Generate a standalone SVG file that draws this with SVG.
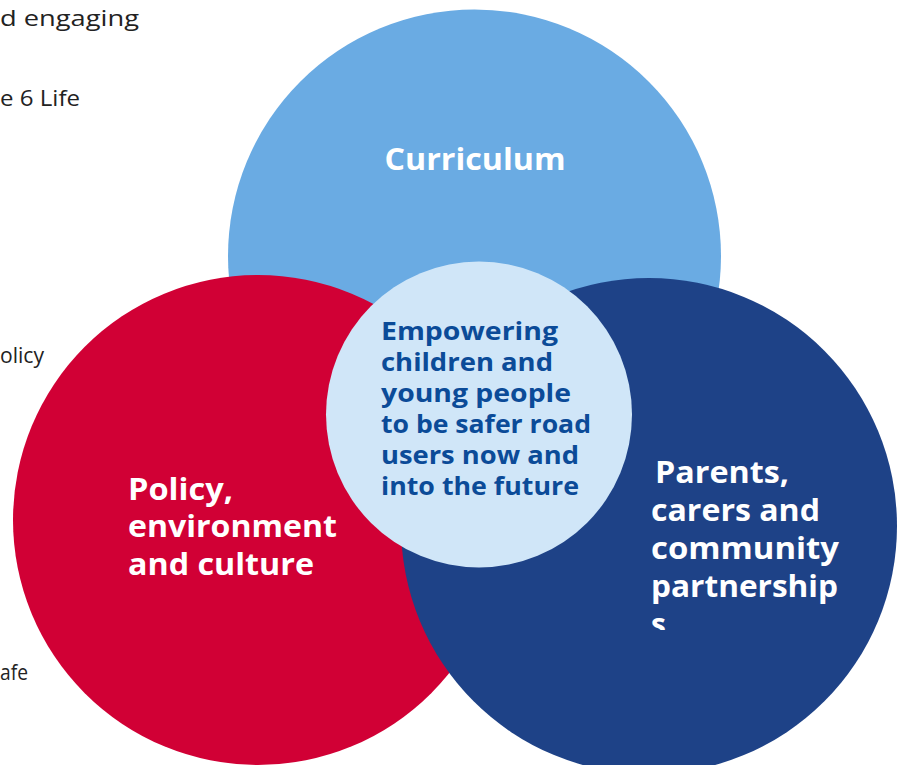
<svg xmlns="http://www.w3.org/2000/svg" width="905" height="765" viewBox="0 0 905 765">
<style>
.bg{font-family:"Open Sans","Liberation Sans",sans-serif;font-size:21px;fill:#222}
.w{font-family:"Open Sans","Liberation Sans",sans-serif;font-weight:700;fill:#fff}
.c{font-family:"Open Sans","Liberation Sans",sans-serif;font-weight:700;font-size:25px;fill:#0B4B98}
</style>
<defs>
<clipPath id="clipP"><rect x="600" y="440" width="300" height="190"/></clipPath>
</defs>
<rect width="905" height="765" fill="#fff"/>
<g id="side-text">
<text class="bg" x="0" y="26" textLength="139" lengthAdjust="spacingAndGlyphs">d engaging</text>
<text class="bg" x="0" y="106" textLength="80" lengthAdjust="spacingAndGlyphs">e 6 Life</text>
<text class="bg" x="0" y="363" textLength="44" lengthAdjust="spacingAndGlyphs">olicy</text>
<text class="bg" x="0" y="680" textLength="28" lengthAdjust="spacingAndGlyphs">afe</text>
</g>
<g id="curriculum">
<circle cx="474.5" cy="256" r="246.5" fill="#6AABE3"/>
<text class="w" x="475" y="170" font-size="30" text-anchor="middle" textLength="181" lengthAdjust="spacingAndGlyphs">Curriculum</text>
</g>
<g id="policy">
<circle cx="258" cy="520" r="245" fill="#D10035"/>
<text class="w" font-size="30" x="128" y="500" textLength="105" lengthAdjust="spacingAndGlyphs">Policy,</text>
<text class="w" font-size="30" x="128" y="537" textLength="209" lengthAdjust="spacingAndGlyphs">environment</text>
<text class="w" font-size="30" x="128" y="575" textLength="186" lengthAdjust="spacingAndGlyphs">and culture</text>
</g>
<g id="parents">
<circle cx="649" cy="526" r="248" fill="#1E4287"/>
<g clip-path="url(#clipP)">
<text class="w" font-size="30" x="655" y="483" textLength="134" lengthAdjust="spacingAndGlyphs">Parents,</text>
<text class="w" font-size="30" x="651" y="521" textLength="169" lengthAdjust="spacingAndGlyphs">carers and</text>
<text class="w" font-size="30" x="651" y="559" textLength="188" lengthAdjust="spacingAndGlyphs">community</text>
<text class="w" font-size="30" x="651" y="597" textLength="187" lengthAdjust="spacingAndGlyphs">partnership</text>
<text class="w" font-size="30" x="651" y="635">s</text>
</g>
</g>
<g id="centre">
<circle cx="479" cy="414.5" r="153" fill="#D0E6F8"/>
<text class="c" x="381" y="340" textLength="177" lengthAdjust="spacingAndGlyphs">Empowering</text>
<text class="c" x="381" y="371" textLength="172" lengthAdjust="spacingAndGlyphs">children and</text>
<text class="c" x="381" y="402" textLength="190" lengthAdjust="spacingAndGlyphs">young people</text>
<text class="c" x="381" y="433" textLength="210" lengthAdjust="spacingAndGlyphs">to be safer road</text>
<text class="c" x="381" y="464" textLength="198" lengthAdjust="spacingAndGlyphs">users now and</text>
<text class="c" x="381" y="495" textLength="198" lengthAdjust="spacingAndGlyphs">into the future</text>
</g>
</svg>
